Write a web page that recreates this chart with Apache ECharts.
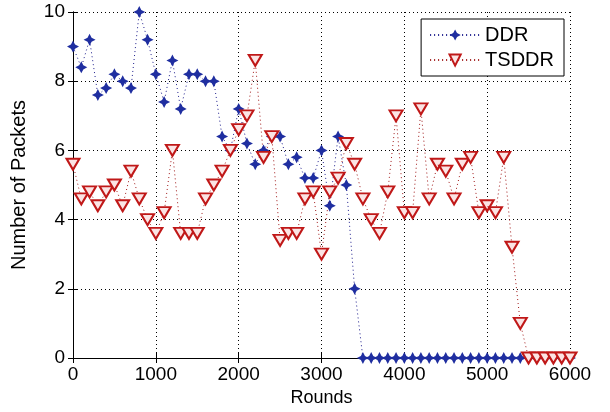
<!DOCTYPE html>
<html>
<head>
    <meta charset="utf-8">
    <title>ECharts</title>
    <script src="https://cdn.jsdelivr.net/npm/echarts@6/dist/echarts.min.js"></script>
</head>
<body style="margin:0">
<div id="main" style="width: 610px;height:412px;"></div>
<script type="text/javascript">
    var myChart = echarts.init(document.getElementById('main'));

    // rounds (x)
    var rounds = [0, 100, 200, 300, 400, 500, 600, 700, 800, 900,
        1000, 1100, 1200, 1300, 1400, 1500, 1600, 1700, 1800, 1900,
        2000, 2100, 2200, 2300, 2400, 2500, 2600, 2700, 2800, 2900,
        3000, 3100, 3200, 3300, 3400, 3500, 3600, 3700, 3800, 3900,
        4000, 4100, 4200, 4300, 4400, 4500, 4600, 4700, 4800, 4900,
        5000, 5100, 5200, 5300, 5400, 5500, 5600, 5700, 5800, 5900, 6000];

    var ddr = [9.0, 8.4, 9.2, 7.6, 7.8, 8.2, 8.0, 7.8, 10, 9.2,
        8.2, 7.4, 8.6, 7.2, 8.2, 8.2, 8.0, 8.0, 6.4, 6.0,
        7.2, 6.2, 5.6, 6.0, 6.4, 6.4, 5.6, 5.8, 5.2, 5.2,
        6.0, 4.4, 6.4, 5.0, 2.0, 0, 0, 0, 0, 0,
        0, 0, 0, 0, 0, 0, 0, 0, 0, 0,
        0, 0, 0, 0, 0, 0, 0, 0, 0, 0, 0];

    var tsddr = [5.6, 4.6, 4.8, 4.4, 4.8, 5.0, 4.4, 5.4, 4.6, 4.0,
        3.6, 4.2, 6.0, 3.6, 3.6, 3.6, 4.6, 5.0, 5.4, 6.0,
        6.6, 7.0, 8.6, 5.8, 6.4, 3.4, 3.6, 3.6, 4.6, 4.8,
        3.0, 4.8, 5.2, 6.2, 5.6, 4.6, 4.0, 3.6, 4.8, 7.0,
        4.2, 4.2, 7.2, 4.6, 5.6, 5.4, 4.6, 5.6, 5.8, 4.2,
        4.4, 4.2, 5.8, 3.2, 1.0, 0, 0, 0, 0, 0, 0];

    var xTicks = [0, 1000, 2000, 3000, 4000, 5000, 6000];
    var yTicks = [0, 2, 4, 6, 8, 10];

    function pairs(ys) {
        return rounds.map(function (r, i) { return [r, ys[i]]; });
    }

    var font = 'Liberation Sans, Arial, sans-serif';
    var starPath = 'path://M0,-10 L3.4,-3.4 L10,0 L3.4,3.4 L0,10 L-3.4,3.4 L-10,0 L-3.4,-3.4 Z';

    var gridLine = {show: true, lineStyle: {color: '#000', type: [1, 3], width: 1}};
    var boxLine = {show: true, lineStyle: {color: '#000', width: 1}};
    var tick = {show: true, inside: true, length: 5, lineStyle: {color: '#000'}};

    option = {
        animation: false,
        backgroundColor: '#fff',
        textStyle: {fontFamily: font},
        grid: {left: 73, right: 40, top: 12, bottom: 54},
        legend: {
            orient: 'vertical',
            right: 46,
            top: 19,
            padding: [6, 10, 6, 8],
            itemWidth: 50,
            itemHeight: 14,
            itemGap: 5,
            borderColor: '#000',
            borderWidth: 1,
            borderRadius: 0,
            backgroundColor: '#fff',
            textStyle: {fontSize: 20, color: '#000', fontFamily: font},
            data: ['DDR', 'TSDDR']
        },
        xAxis: [{
            type: 'value',
            min: 0, max: 6000, interval: 1000,
            name: 'Rounds',
            nameLocation: 'middle',
            nameGap: 28,
            nameTextStyle: {fontSize: 18, color: '#000', fontFamily: font},
            axisLine: boxLine,
            axisTick: tick,
            axisLabel: {fontSize: 19, color: '#000', margin: 7, fontFamily: font,
                formatter: function (v) { return xTicks.indexOf(v) >= 0 ? v : ''; }},
            splitLine: gridLine
        }, {
            type: 'value', position: 'top',
            min: 0, max: 6000, interval: 1000,
            axisLine: boxLine, axisTick: tick,
            axisLabel: {show: false}, splitLine: {show: false}
        }],
        yAxis: [{
            type: 'value',
            min: 0, max: 10, interval: 2,
            name: 'Number of Packets',
            nameLocation: 'middle',
            nameGap: 44,
            nameTextStyle: {fontSize: 20, color: '#000', fontFamily: font},
            axisLine: boxLine,
            axisTick: tick,
            axisLabel: {fontSize: 19, color: '#000', margin: 8, fontFamily: font,
                formatter: function (v) { return yTicks.indexOf(v) >= 0 ? v : ''; }},
            splitLine: gridLine
        }, {
            type: 'value', position: 'right',
            min: 0, max: 10, interval: 2,
            axisLine: boxLine, axisTick: tick,
            axisLabel: {show: false}, splitLine: {show: false}
        }],
        series: [
            {
                name: 'DDR',
                type: 'line',
                data: pairs(ddr),
                symbol: starPath,
                symbolSize: 12,
                showAllSymbol: true,
                lineStyle: {color: '#1c1c8c', width: 1, type: [1, 3]},
                itemStyle: {color: '#1f2ea0'}
            },
            {
                name: 'TSDDR',
                type: 'line',
                data: pairs(tsddr),
                symbol: 'triangle',
                symbolRotate: 180,
                symbolSize: [13, 11],
                showAllSymbol: true,
                lineStyle: {color: '#a01818', width: 1, type: [1, 3]},
                itemStyle: {color: '#fbe4e4', borderColor: '#c01818', borderWidth: 2}
            }
        ]
    };

    myChart.setOption(option);
</script>
</body>
</html>
